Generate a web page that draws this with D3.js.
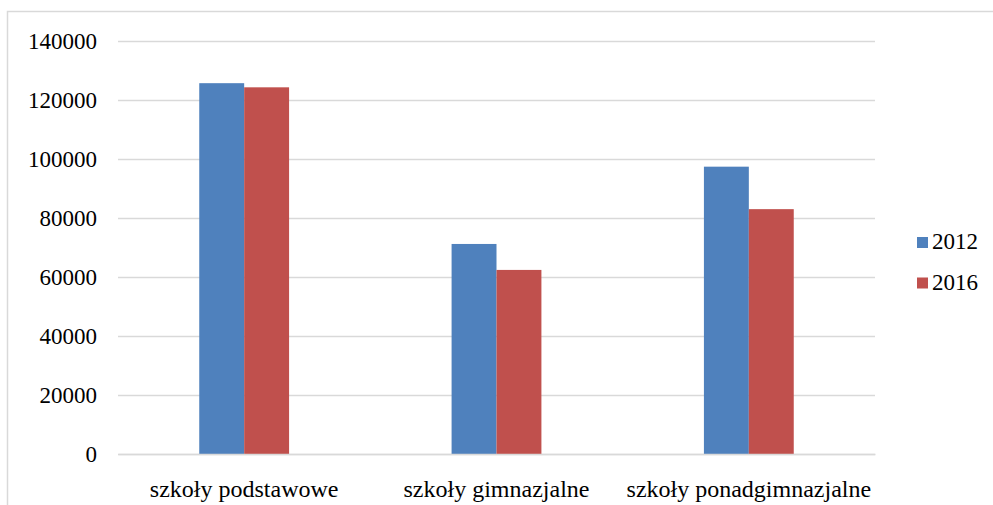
<!DOCTYPE html>
<html>
<head>
<meta charset="utf-8">
<script src="https://cdn.jsdelivr.net/npm/d3@7"></script>
<style>
  html, body { margin: 0; padding: 0; background: #fff; }
  svg { display: block; }
</style>
</head>
<body>
<svg id="chart" width="993" height="505"></svg>
<script>
const categories = ["szkoły podstawowe", "szkoły gimnazjalne", "szkoły ponadgimnazjalne"];
const seriesNames = ["2012", "2016"];
const values2012 = [125700, 71200, 97400];
const values2016 = [124300, 62400, 83000];
const yTicks = [0, 20000, 40000, 60000, 80000, 100000, 120000, 140000];
const colors = ["#4F81BD", "#C0504D"];

const FONT = "'Liberation Serif', Tinos, 'Times New Roman', 'DejaVu Serif', serif";
const FS = 23;

const svg = d3.select("#chart");
const W = 993, H = 505;
const plot = { left: 118, right: 875, top: 41, bottom: 454 };

// outer frame
svg.append("path")
  .attr("d", `M7.5,${H} L7.5,11.5 L${W},11.5`)
  .attr("fill", "none").attr("stroke", "#D9D9D9").attr("stroke-width", 1.5);

const x = d3.scaleBand().domain(categories)
  .range([plot.left, plot.right])
  .paddingInner(0.644).paddingOuter(0.322);
const xs = d3.scaleBand().domain(seriesNames).range([0, x.bandwidth()]);
const y = d3.scaleLinear().domain([0, 140000]).range([plot.bottom, plot.top]);

// gridlines
const yAxis = d3.axisLeft(y).tickValues(yTicks).tickSize(-(plot.right - plot.left)).tickPadding(21)
  .tickFormat(d3.format("d"));
const gy = svg.append("g").attr("transform", `translate(${plot.left},0)`).call(yAxis);
gy.attr("font-family", null).attr("font-size", null);
gy.select(".domain").remove();
gy.selectAll(".tick line").attr("stroke", "#D9D9D9").attr("stroke-width", 1.5);
gy.selectAll(".tick text").style("font-size", FS + "px").style("font-family", FONT).attr("fill", "#000");

// bars
const data = categories.map((c, i) => ({ cat: c, vals: [values2012[i], values2016[i]] }));
const groups = svg.append("g").selectAll("g").data(data).join("g")
  .attr("transform", d => `translate(${x(d.cat)},0)`);
groups.selectAll("rect").data(d => d.vals.map((v, j) => ({ v, s: seriesNames[j], j })))
  .join("rect")
  .attr("x", d => xs(d.s))
  .attr("y", d => y(d.v))
  .attr("width", xs.bandwidth())
  .attr("height", d => y(0) - y(d.v))
  .attr("fill", d => colors[d.j]);

// x axis
const xAxis = d3.axisBottom(x).tickSize(0).tickPadding(26);
const gx = svg.append("g").attr("transform", `translate(0,${plot.bottom})`).call(xAxis);
gx.attr("font-family", null).attr("font-size", null);
gx.select(".domain").attr("stroke", "#D9D9D9").attr("stroke-width", 1.5);
gx.selectAll(".tick text").style("font-size", "24px").style("font-family", FONT).attr("fill", "#000");

// legend
const legend = svg.append("g");
seriesNames.forEach((s, i) => {
  const g = legend.append("g").attr("transform", `translate(917,${237 + i * 40.5})`);
  g.append("rect").attr("width", 11).attr("height", 11).attr("fill", colors[i]);
  g.append("text").attr("x", 15).attr("y", 12)
    .style("font-size", FS + "px").style("font-family", FONT).attr("fill", "#000").text(s);
});
</script>
</body>
</html>
